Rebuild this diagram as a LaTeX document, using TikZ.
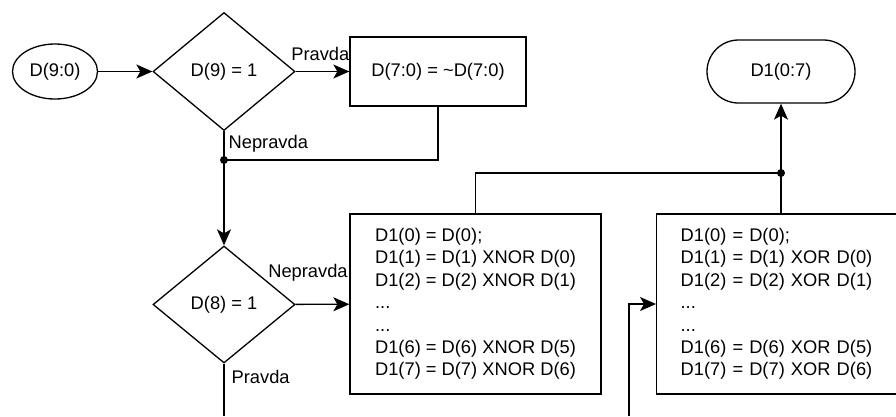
\documentclass[tikz,border=0pt]{standalone}
\usepackage{fontspec}
\setmainfont{Liberation Sans}
\usetikzlibrary{shapes.geometric,arrows.meta}
\tikzset{
  every node/.style={font=\fontsize{18.3}{22.4}\selectfont},
  decision/.style={diamond, draw, minimum width=142, minimum height=118, inner sep=0pt},
  process/.style={rectangle, draw, align=left, minimum height=180},
  terminal/.style={rectangle, draw, rounded corners=31.5, minimum width=148, minimum height=63},
  lbl/.style={inner sep=0pt, anchor=base west},
  arr/.style={-{Stealth[length=16pt,width=14pt,inset=4pt]}},
}
\begin{document}
\begin{tikzpicture}[x=1pt,y=-1pt,line width=1.3pt]
  \useasboundingbox (0,0) rectangle (896,416);
  \clip (0,0) rectangle (896,416);
  % top row
  \node[ellipse, draw, minimum width=85, minimum height=55, inner sep=0pt] (src) at (55,71.5) {D(9:0)};
  \node[decision] (d9) at (224,71.5) {D(9) = 1};
  \node[rectangle, draw, minimum width=176, minimum height=69] (inv) at (438,71.5) {D(7:0) = \textasciitilde D(7:0)};
  \node[terminal] (dst) at (781,71.5) {D1(0:7)};
  % bottom row
  \node[decision, minimum height=117] (d8) at (224,304.5) {D(8) = 1};
  \node[process, minimum width=251] (xnor) at (475.5,304) {D1(0) = D(0);\\D1(1) = D(1) XNOR D(0)\\D1(2) = D(2) XNOR D(1)\\...\\...\\D1(6) = D(6) XNOR D(5)\\D1(7) = D(7) XNOR D(6)};
  \node[process, anchor=west, text width=214, inner xsep=24] (xor) at (656,304) {D1(0) = D(0);\\D1(1) = D(1) XOR D(0)\\D1(2) = D(2) XOR D(1)\\...\\...\\D1(6) = D(6) XOR D(5)\\D1(7) = D(7) XOR D(6)};
  \coordinate (j1) at (224,160);
  \coordinate (j2) at (781,173);
  \coordinate (out8) at (224,416);
  \coordinate (in2) at (629,416);
  % connectors
  \draw[arr] (src) -- (d9);
  \draw[arr] (d9) -- (inv);
  \node[lbl] (t9) at ([shift={(-5,-11)}]d9.east) {Pravda};
  \draw[arr] (d9) -- (d8);
  \node[lbl] (f9) at ([shift={(4,17)}]d9.south) {Nepravda};
  \draw (inv.south) |- (j1);
  \fill (j1) circle (4);
  \draw[arr] (d8) -- (xnor);
  \node[lbl] (f8) at ([shift={(-28,-27)}]d8.east) {Nepravda};
  \draw (d8) -- (out8);
  \node[lbl] (t8) at ([shift={(7,20)}]d8.south) {Pravda};
  \draw (xnor.north) |- (j2);
  \draw[arr] (xor.north -| j2) -- (dst);
  \fill (j2) circle (4);
  \draw[arr] (in2) |- (xor.west);
\end{tikzpicture}
\end{document}
